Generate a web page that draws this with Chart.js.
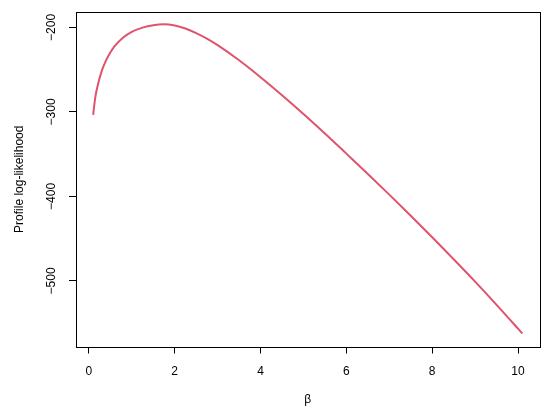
<!DOCTYPE html>
<html>
<head>
<meta charset="utf-8">
<script src="https://cdn.jsdelivr.net/npm/chart.js@4.4.1/dist/chart.umd.min.js"></script>
<style>
  html, body { margin: 0; padding: 0; background: #ffffff; }
  #wrap { width: 550px; height: 420px; position: relative; }
</style>
</head>
<body>
<div id="wrap"><canvas id="c" width="550" height="420"></canvas></div>
<script>
// ---- data ----
const betaValues = [0.1, 0.15, 0.2, 0.3, 0.4, 0.5, 0.6, 0.8, 1.0, 1.25, 1.5, 1.75, 2.0, 2.25, 2.5, 2.75, 3.0, 3.5, 4.0, 4.5, 5.0, 5.5, 6.0, 6.5, 7.0, 7.5, 8.0, 8.5, 9.0, 9.5, 10.0, 10.1];
const logLikValues = [-303.5, -282.5, -270, -251.5, -239, -229.8, -222.3, -212, -205.3, -200.3, -197.4, -196.4, -197.8, -201.4, -206.7, -213.3, -221, -238.9, -258.9, -280.2, -302.4, -325.5, -349.4, -373.4, -397.9, -422.9, -448.4, -474.4, -500.9, -528.3, -556.5, -562.2];
const xTickValues = [0, 2, 4, 6, 8, 10];
const yTickValues = [-500, -400, -300, -200];
const xTitle = 'β';
const yTitle = 'Profile log-likelihood';

const FONT = "'Liberation Sans', Arial, Helvetica, sans-serif";
const points = betaValues.map((b, i) => ({ x: b, y: logLikValues[i] }));

const boxPlugin = {
  id: 'box',
  afterDraw(chart) {
    const { ctx, chartArea: a } = chart;
    ctx.save();
    ctx.strokeStyle = '#000';
    ctx.lineWidth = 1;
    ctx.strokeRect(Math.round(a.left) + 0.5, Math.round(a.top) + 0.5, Math.round(a.right - a.left), Math.round(a.bottom - a.top));
    ctx.restore();
  }
};

new Chart(document.getElementById('c'), {
  type: 'line',
  data: {
    datasets: [{
      data: points,
      borderColor: '#DF536B',
      borderWidth: 2,
      pointRadius: 0,
      fill: false,
      cubicInterpolationMode: 'monotone'
    }]
  },
  options: {
    responsive: false,
    animation: false,
    devicePixelRatio: 1,
    layout: { padding: { left: 0, right: 10.5, top: 12, bottom: 0 } },
    plugins: { legend: { display: false }, tooltip: { enabled: false } },
    scales: {
      x: {
        type: 'linear',
        min: -0.3,
        max: 10.5,
        afterBuildTicks(s) { s.ticks = xTickValues.map(v => ({ value: v })); },
        afterFit(s) { s.height = 73.5; },
        grid: { display: true, drawOnChartArea: false, drawTicks: true, tickLength: 7, color: '#000', lineWidth: 1 },
        border: { display: false },
        ticks: { color: '#000', font: { family: FONT, size: 12 }, padding: 11, maxRotation: 0, autoSkip: false,
          callback: v => String(v) },
        title: { display: true, text: xTitle, color: '#000', font: { family: FONT, size: 12 }, padding: { top: 0, bottom: 12.8 } }
      },
      y: {
        type: 'linear',
        min: -577.6,
        max: -181.8,
        afterBuildTicks(s) { s.ticks = yTickValues.map(v => ({ value: v })); },
        afterFit(s) { s.width = 76; },
        grid: { display: true, drawOnChartArea: false, drawTicks: true, tickLength: 7, color: '#000', lineWidth: 1 },
        border: { display: false },
        ticks: { color: '#000', font: { family: FONT, size: 12 }, padding: 4, minRotation: 90, maxRotation: 90, crossAlign: 'center', autoSkip: false,
          callback: v => String(v).replace('-', '\u2212') },
        title: { display: true, text: yTitle, color: '#000', font: { family: FONT, size: 12 }, padding: { top: 12.8, bottom: 0 } }
      }
    }
  },
  plugins: [boxPlugin]
});
</script>
</body>
</html>
